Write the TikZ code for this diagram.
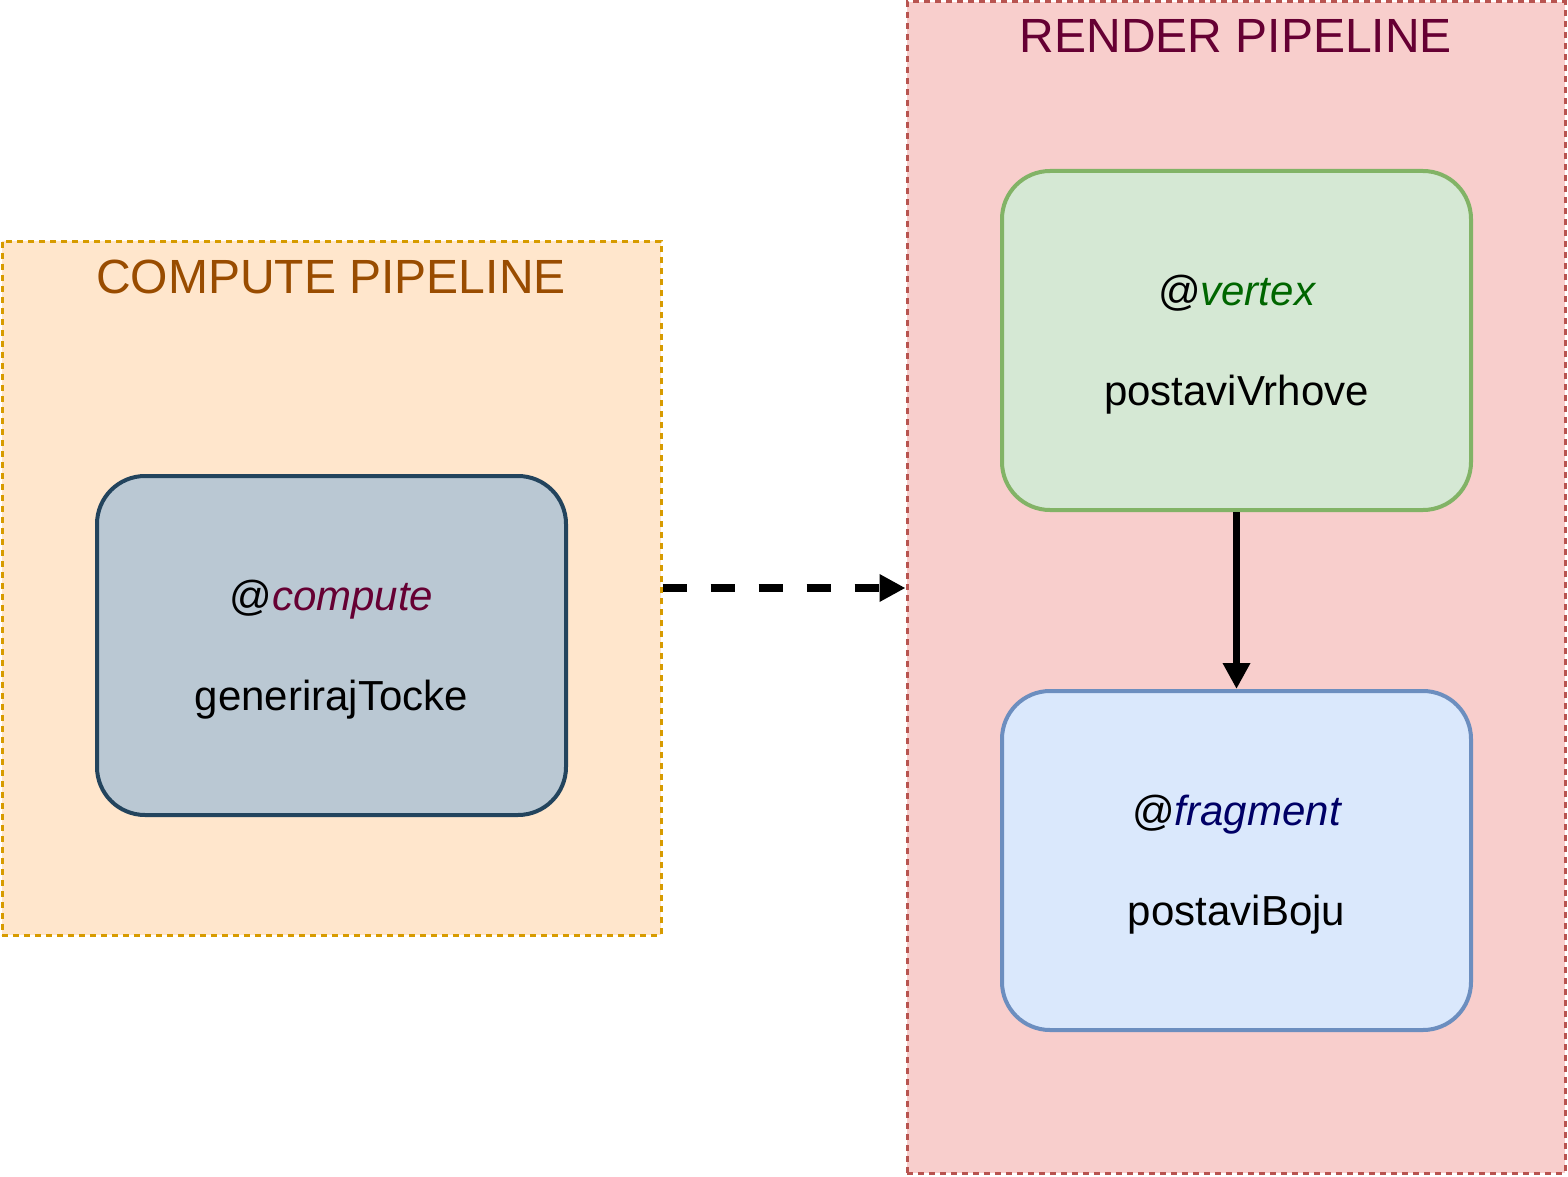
\documentclass[tikz,border=0pt]{standalone}
\usepackage{fontspec}
\setmainfont{Liberation Sans}
\usetikzlibrary{arrows.meta}
\definecolor{computebg}{HTML}{FFE6CC}
\definecolor{computeline}{HTML}{D79B00}
\definecolor{computetitle}{HTML}{994C00}
\definecolor{renderbg}{HTML}{F8CECC}
\definecolor{renderline}{HTML}{B85450}
\definecolor{rendertitle}{HTML}{660033}
\definecolor{shaderbg}{HTML}{BAC8D3}
\definecolor{shaderline}{HTML}{23445D}
\definecolor{vertexbg}{HTML}{D5E8D4}
\definecolor{vertexline}{HTML}{82B366}
\definecolor{vertexword}{HTML}{006600}
\definecolor{fragbg}{HTML}{DAE8FC}
\definecolor{fragline}{HTML}{6C8EBF}
\definecolor{fragword}{HTML}{000066}
\tikzset{
  pipebox/.style={draw, line width=3pt, dash pattern=on 6pt off 5pt, inner sep=0pt},
  pipetitle/.style={anchor=base, inner sep=0pt, font=\fontsize{48}{58}\selectfont},
  shader/.style={draw, line width=4pt, rounded corners=48pt, inner sep=0pt,
    minimum width=469pt, minimum height=339pt, align=center, text depth=1pt,
    font=\fontsize{42}{100}\selectfont},
  flow/.style={line width=7.5pt, -{Triangle[length=26pt,width=26pt]}}
}
\begin{document}
\begin{tikzpicture}[x=1pt,y=-1pt]
\useasboundingbox (0,0) rectangle (1568,1177);
% pipelines
\node[pipebox, fill=computebg, draw=computeline, minimum width=659pt, minimum height=694pt]
  (computebox) at (331.5,588) {};
\node[pipebox, fill=renderbg, draw=renderline, minimum width=658pt, minimum height=1171pt]
  (renderbox) at (1236,587.5) {};
\node[pipetitle, text=computetitle] (computetitle) at (331,293) {COMPUTE PIPELINE};
\node[pipetitle, text=rendertitle] (rendertitle) at (1236,53) {RENDER PIPELINE};
% shaders
\node[shader, fill=shaderbg, draw=shaderline] (compute) at (331.5,645.5)
  {@\textit{\color{rendertitle}compute}\\generirajTocke};
\node[shader, fill=vertexbg, draw=vertexline] (vertex) at (1236.5,340.5)
  {@\textit{\color{vertexword}vertex}\\postaviVrhove};
\node[shader, fill=fragbg, draw=fragline] (fragment) at (1236.5,860.5)
  {@\textit{\color{fragword}fragment}\\postaviBoju};
% arrows
\draw[flow, dash pattern=on 24pt off 24pt] (computebox.east) -- (computebox.east -| renderbox.west);
\draw[flow] (vertex.south) -- (fragment.north);
\end{tikzpicture}
\end{document}
